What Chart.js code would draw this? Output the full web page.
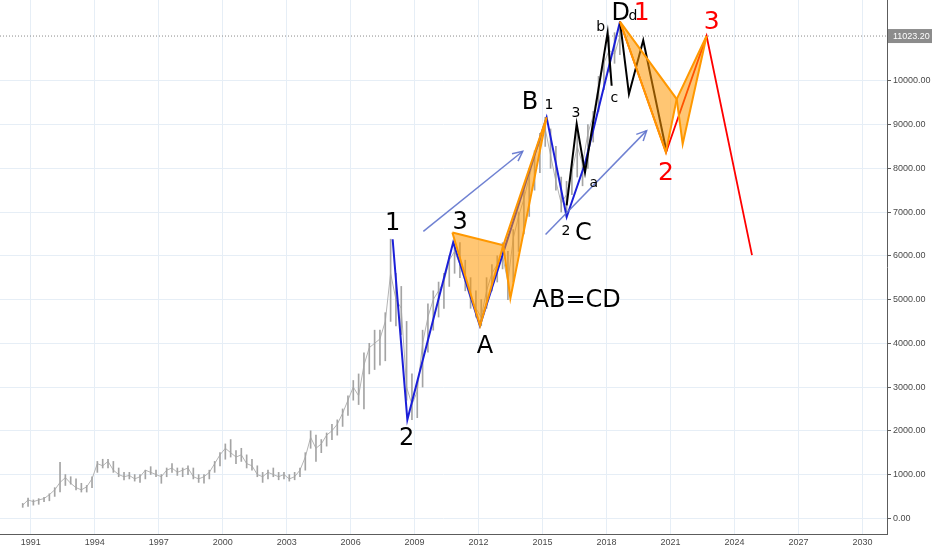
<!DOCTYPE html>
<html>
<head>
<meta charset="utf-8">
<script src="https://cdn.jsdelivr.net/npm/chart.js@4.4.1/dist/chart.umd.min.js"></script>
<style>
html, body { margin: 0; padding: 0; background: #fff; }
</style>
</head>
<body>
<canvas id="chartWave" width="932" height="550"></canvas>
<script>
// quarterly price bars, first bar is 1990 Q3
const firstQuarter = 1990.5;
const barLow = [
  250, 270,
  300, 320, 380, 400,
  500, 600, 750, 780,
  650, 600, 600, 700,
  1050, 1150, 1150, 1050,
  950, 880, 900, 850,
  820, 900, 1000, 950,
  800, 950, 1050, 980,
  950, 1000, 900, 820,
  800, 900, 1050, 1200,
  1350, 1400, 1250, 1300,
  1150, 1100, 950, 820,
  900, 950, 880, 900,
  850, 880, 950, 1100,
  1600, 1300, 1500, 1650,
  1800, 1900, 2100, 2350,
  2700, 2600, 2500, 3300,
  3400, 3500, 3600, 4500,
  4400, 4200, 2700, 2255,
  2300, 3000, 3800, 4300,
  4600, 4800, 5300, 5600,
  5500, 5200, 4800, 4600,
  4400, 4800, 5200, 5400,
  5700, 5000, 5400, 6100,
  6500, 6900, 7500, 7900,
  8500, 8000, 7500, 7000,
  6885, 7400, 7800, 7600,
  8000, 8600, 9300, 9800,
  10200, 10400, 10600
];
const barHigh = [
  340, 460,
  420, 450, 480, 560,
  700, 1280, 1000, 950,
  900, 800, 750, 950,
  1300, 1350, 1350, 1300,
  1150, 1050, 1050, 1000,
  1000, 1100, 1180, 1100,
  1000, 1150, 1250, 1150,
  1150, 1200, 1150, 1000,
  1000, 1100, 1300, 1500,
  1700, 1800, 1550, 1600,
  1450, 1350, 1200, 1050,
  1100, 1150, 1050, 1050,
  1000, 1050, 1150, 1500,
  2000, 1900, 1800, 1950,
  2150, 2250, 2500, 2800,
  3150, 3300, 3780, 4000,
  4300, 4300, 4700, 6380,
  5600, 5300, 4500, 3300,
  3100, 4300, 4900, 5200,
  5400, 5600, 6000, 6300,
  6300, 5900, 5500, 5200,
  5000, 5500, 5800, 6000,
  6300, 6100, 6600, 7000,
  7500, 8000, 8400, 8800,
  9165, 8900, 8500, 7800,
  7700, 8100, 8860, 8300,
  9000, 9300, 10100, 10600,
  11000, 11100, 11350
];
const barClose = [
  300, 420,
  380, 420, 450, 540,
  650, 820, 930, 800,
  700, 650, 720, 900,
  1250, 1200, 1300, 1100,
  1000, 950, 980, 900,
  950, 1100, 1050, 1000,
  950, 1100, 1150, 1050,
  1100, 1150, 950, 900,
  950, 1050, 1250, 1450,
  1600, 1500, 1400, 1450,
  1250, 1200, 1000, 950,
  1050, 1000, 950, 1000,
  900, 950, 1100, 1400,
  1850, 1600, 1700, 1900,
  2000, 2150, 2400, 2700,
  3000, 2800, 3500, 3900,
  4000, 4100, 4500, 5600,
  5000, 4800, 3000, 2600,
  2900, 4000, 4600, 5000,
  5200, 5400, 5900, 6100,
  5800, 5400, 5000, 4800,
  4600, 5200, 5600, 5800,
  6000, 5400, 6400, 6900,
  7300, 7800, 8300, 8600,
  8900, 8300, 7700, 7200,
  7400, 7900, 8500, 8100,
  8800, 9200, 9900, 10400,
  10700, 10600, 11023.2
];
const lastPrice = 11023.2;

const yearTicks = [1991, 1994, 1997, 2000, 2003, 2006, 2009, 2012, 2015, 2018, 2021, 2024, 2027, 2030];
const valueTicks = [0, 1000, 2000, 3000, 4000, 5000, 6000, 7000, 8000, 9000, 10000];

// wave lines
const blueX = [2007.97, 2008.66, 2010.81, 2012.06, 2015.19, 2016.13, 2016.99, 2018.63];
const blueY = [6378, 2255, 6310, 4403, 9164, 6886, 8109, 11351];
const blackX = [2016.13, 2016.6, 2016.99, 2018.05, 2018.24, 2018.4, 2018.63, 2019.05, 2019.72, 2020.81];
const blackY = [7153, 9014, 7904, 11100, 9886, null, 11351, 9697, 10927, 8383];
const redX = [2018.63, 2020.79, 2022.69, 2024.82];
const redY = [11351, 8367, 11025, 6014];

// AB=CD triangles
const tri1X = [2010.77, 2013.16, 2012.07, 2010.77];
const tri1Y = [6531, 6241, 4400, 6531];
const tri2X = [2013.16, 2015.19, 2013.49, 2013.16];
const tri2Y = [6241, 9164, 5027, 6241];
const tri3X = [2018.63, 2021.29, 2020.78, 2018.63];
const tri3Y = [11351, 9583, 8367, 11351];
const tri4X = [2022.69, 2021.29, 2021.57, 2022.69];
const tri4Y = [11025, 9583, 8558, 11025];

// trend arrows
const arrow1X = [2009.41, 2014.07];
const arrow1Y = [6560, 8390];
const arrow2X = [2015.14, 2019.88];
const arrow2Y = [6485, 8861];

// text marks: text, year, value (baseline), kind
const marks = [
  ["1", 2007.97, 6583, "big"],
  ["2", 2008.63, 1686, "big"],
  ["3", 2011.13, 6622, "big"],
  ["A", 2012.30, 3774, "big"],
  ["AB=CD", 2016.60, 4836, "big"],
  ["B", 2014.41, 9355, "big"],
  ["1", 2015.30, 9355, "small"],
  ["3", 2016.56, 9164, "small"],
  ["a", 2017.40, 7569, "small"],
  ["2", 2016.10, 6469, "small"],
  ["C", 2016.91, 6355, "big"],
  ["b", 2017.72, 11139, "small"],
  ["c", 2018.36, 9506, "small"],
  ["D", 2018.66, 11383, "big"],
  ["d", 2019.24, 11383, "small"],
  ["1", 2019.65, 11401, "red"],
  ["2", 2020.78, 7722, "red"],
  ["3", 2022.93, 11178, "red"]
];

const xMin = 1989.56;
const xMax = 2031.15;
const axisFont = "'Liberation Sans', Arial";

function toPoints(xs, ys) {
  return xs.map((x, i) => ({ x: x, y: ys[i] }));
}

function quarterX(i) {
  return firstQuarter + i * 0.25 + 0.125;
}

const barData = barLow.map((lo, i) => ({ x: quarterX(i), y: [lo, barHigh[i]] }));
const closeData = barClose.map((c, i) => ({ x: quarterX(i), y: c }));

const markStyle = {
  big: { font: "24px 'DejaVu Sans'", color: "#000" },
  small: { font: "14px 'DejaVu Sans'", color: "#000" },
  red: { font: "25px 'DejaVu Sans'", color: "#ff0000" }
};

const marksPlugin = {
  id: "marks",
  afterDatasetsDraw(chart) {
    const ctx = chart.ctx;
    const xs = chart.scales.x;
    const ys = chart.scales.y;
    ctx.save();
    // arrow heads
    chart.data.datasets.forEach((ds, i) => {
      if (!ds.arrow) return;
      const pts = chart.getDatasetMeta(i).data;
      const a = pts[pts.length - 2];
      const b = pts[pts.length - 1];
      const ang = Math.atan2(b.y - a.y, b.x - a.x);
      ctx.strokeStyle = ds.borderColor;
      ctx.lineWidth = 1.5;
      ctx.beginPath();
      ctx.moveTo(b.x - 11 * Math.cos(ang - 0.45), b.y - 11 * Math.sin(ang - 0.45));
      ctx.lineTo(b.x, b.y);
      ctx.lineTo(b.x - 11 * Math.cos(ang + 0.45), b.y - 11 * Math.sin(ang + 0.45));
      ctx.stroke();
    });
    // labels
    ctx.textAlign = "center";
    ctx.textBaseline = "alphabetic";
    marks.forEach(m => {
      const st = markStyle[m[3]];
      ctx.font = st.font;
      ctx.fillStyle = st.color;
      ctx.fillText(m[0], xs.getPixelForValue(m[1]), ys.getPixelForValue(m[2]));
    });
    // last price box on the axis
    const py = ys.getPixelForValue(lastPrice);
    ctx.fillStyle = "#8c8c8c";
    ctx.fillRect(chart.chartArea.right + 1, py - 7, chart.width - chart.chartArea.right - 1, 14);
    ctx.fillStyle = "#fff";
    ctx.font = "9px " + axisFont;
    ctx.textAlign = "left";
    ctx.textBaseline = "middle";
    ctx.fillText(lastPrice.toFixed(2), chart.chartArea.right + 6, py + 0.5);
    ctx.restore();
  }
};

function lineSet(xs, ys, color, width, order) {
  return {
    type: "line",
    data: toPoints(xs, ys),
    borderColor: color,
    borderWidth: width,
    pointRadius: 0,
    tension: 0,
    fill: false,
    spanGaps: false,
    order: order
  };
}

function triangleSet(xs, ys) {
  return {
    type: "line",
    data: toPoints(xs, ys),
    borderColor: "#ff9800",
    borderWidth: 2,
    backgroundColor: "rgba(255,152,0,0.55)",
    pointRadius: 0,
    tension: 0,
    fill: "shape",
    order: 1
  };
}

const arrow1 = lineSet(arrow1X, arrow1Y, "rgba(95,115,205,0.9)", 1.5, 2);
arrow1.arrow = true;
const arrow2 = lineSet(arrow2X, arrow2Y, "rgba(95,115,205,0.9)", 1.5, 2);
arrow2.arrow = true;

const priceLine = lineSet([xMin, xMax], [lastPrice, lastPrice], "#8a8a8a", 1, 5);
priceLine.borderDash = [1, 2];

const closeLine = {
  type: "line",
  data: closeData,
  borderColor: "#b4b4b4",
  borderWidth: 1,
  pointRadius: 0,
  tension: 0,
  fill: false,
  order: 7
};

new Chart(document.getElementById("chartWave"), {
  type: "line",
  data: {
    datasets: [
      triangleSet(tri1X, tri1Y),
      triangleSet(tri2X, tri2Y),
      triangleSet(tri3X, tri3Y),
      triangleSet(tri4X, tri4Y),
      arrow1,
      arrow2,
      lineSet(redX, redY, "#ff0000", 1.8, 2),
      lineSet(blackX, blackY, "#000", 2, 3),
      lineSet(blueX, blueY, "#1b1fd8", 2, 4),
      priceLine,
      {
        type: "bar",
        data: barData,
        backgroundColor: "#a4a4a4",
        barThickness: 1,
        order: 6
      },
      closeLine
    ]
  },
  options: {
    responsive: false,
    animation: false,
    layout: { padding: 0 },
    plugins: { legend: { display: false }, tooltip: { enabled: false } },
    scales: {
      x: {
        type: "linear",
        min: xMin,
        max: xMax,
        offset: false,
        afterBuildTicks: s => { s.ticks = yearTicks.map(v => ({ value: v })); },
        afterFit: s => { s.height = 16; s.paddingLeft = 0; s.paddingRight = 0; },
        grid: { color: "#e6eef6", drawTicks: false, offset: false },
        border: { color: "#5c5c5c" },
        ticks: {
          padding: 3,
          color: "#4a4a4a",
          maxRotation: 0,
          autoSkip: false,
          font: { family: axisFont, size: 9 },
          callback: v => String(v)
        }
      },
      y: {
        position: "right",
        min: -359,
        max: 11847,
        afterBuildTicks: s => { s.ticks = valueTicks.map(v => ({ value: v })); },
        afterFit: s => { s.width = 45; s.paddingTop = 0; s.paddingBottom = 0; },
        grid: { color: "#e6eef6", tickLength: 4, tickColor: "#5c5c5c" },
        border: { color: "#5c5c5c" },
        ticks: {
          padding: 2,
          color: "#4a4a4a",
          font: { family: axisFont, size: 9 },
          callback: v => v.toFixed(2)
        }
      }
    }
  },
  plugins: [marksPlugin]
});
</script>
</body>
</html>
